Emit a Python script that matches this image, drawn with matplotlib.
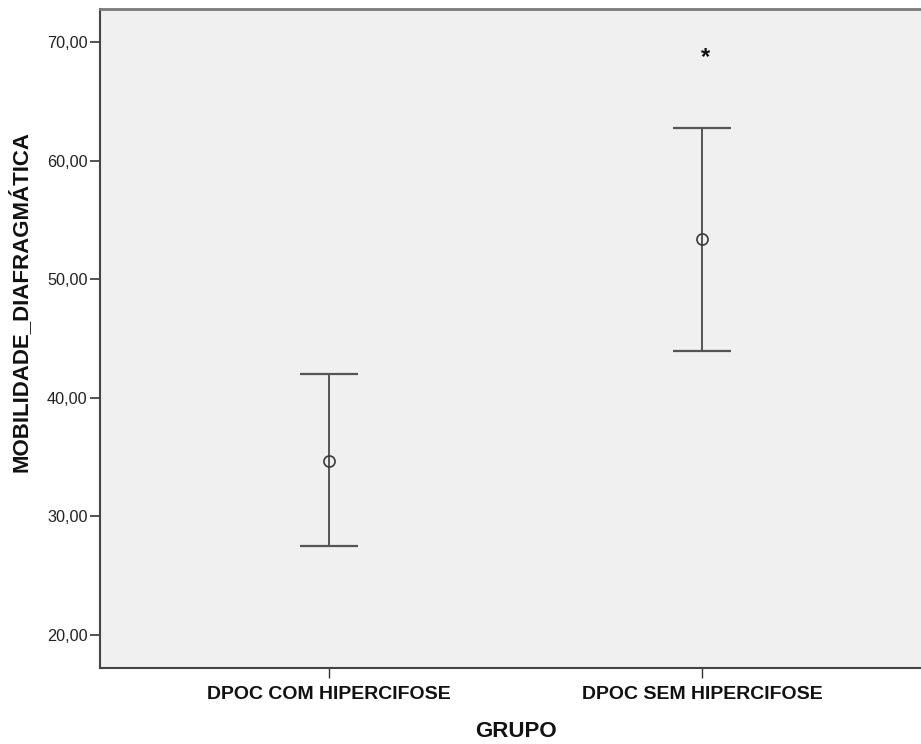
import matplotlib
matplotlib.use("Agg")
import matplotlib.pyplot as plt

plt.rcParams['font.family'] = ['Liberation Sans', 'DejaVu Sans']

categories = ["DPOC COM HIPERCIFOSE", "DPOC SEM HIPERCIFOSE"]
means = [34.7, 53.37]
upper = [42.02, 62.78]
lower = [27.47, 43.96]
yticks = [20, 30, 40, 50, 60, 70]
ytick_labels = ["20,00", "30,00", "40,00", "50,00", "60,00", "70,00"]
annot_x = [2.01]
annot_y = [68.7]
annot_text = ["*"]

W, H = 921, 744
fig = plt.figure(figsize=(W / 100, H / 100), dpi=100)
ax = fig.add_axes([100 / W, (H - 668) / H, 831 / W, 659 / H])
ax.set_facecolor('#f0f0f0')

xs = [1, 2]
cap_half = 0.078
dark = '#3a3a3a'
for x, m, lo, hi in zip(xs, means, lower, upper):
    ax.vlines(x, lo, hi, color=dark, lw=1.2, zorder=2)
    ax.hlines([lo, hi], x - cap_half, x + cap_half, color='#555555', lw=1.6, zorder=2)
ax.plot(xs, means, linestyle='none', marker='o', ms=8, mfc='none', mec=dark, mew=1.2, zorder=3)

for x, y, t in zip(annot_x, annot_y, annot_text):
    ax.text(x, y, t, ha='center', va='center', fontsize=17, fontweight='bold', color='#111111')

ax.set_xlim(0.386, 2.614)
ax.set_ylim(17.22, 72.78)
ax.set_xticks(xs)
ax.set_xticklabels(categories, fontsize=14, fontweight='bold', color='#111111')
ax.set_yticks(yticks)
ax.set_yticklabels(ytick_labels, fontsize=11.7, color='#222222')
ax.tick_params(axis='y', length=7, width=1.2, color='#333333', pad=2)
ax.tick_params(axis='x', length=7, width=1.0, color='#333333', pad=6)

for s in ['left', 'bottom']:
    ax.spines[s].set_color('#444444')
    ax.spines[s].set_linewidth(1.5)
ax.spines['top'].set_color('#7a7a7a')
ax.spines['top'].set_linewidth(2)
ax.spines['right'].set_visible(False)

ax.set_xlabel("GRUPO", fontsize=16, fontweight='bold', color='#111111')
ax.xaxis.set_label_coords(0.5, -0.08)
fig.text(20 / W, 1 - 302 / H, "MOBILIDADE_DIAFRAGMÁTICA", rotation=90, ha='center', va='center',
         fontsize=16, fontweight='bold', color='#111111')

fig.savefig("out.png", dpi=100, facecolor='white')
